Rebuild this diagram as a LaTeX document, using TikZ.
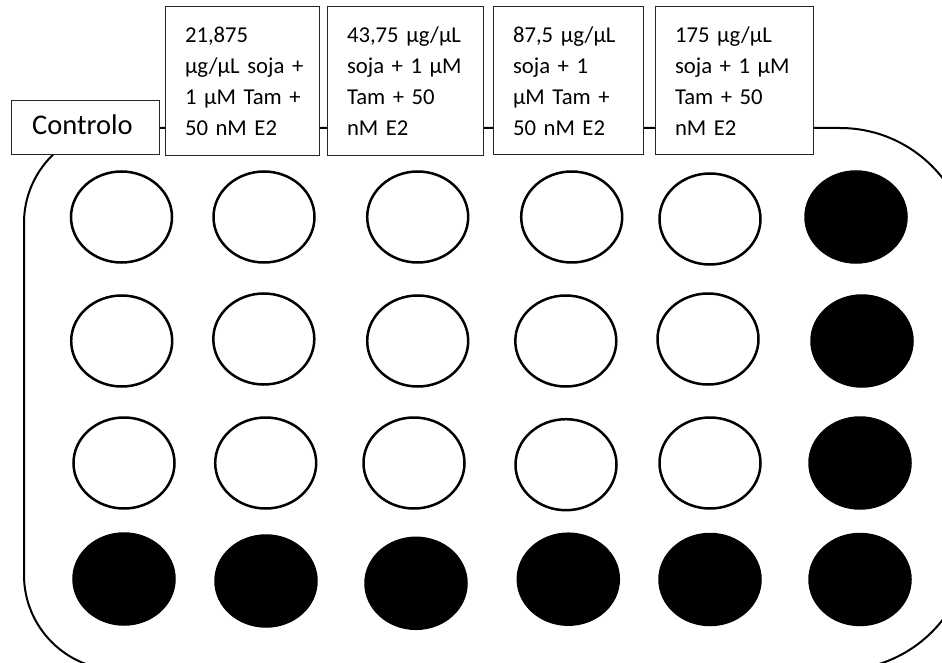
\documentclass[tikz,border=0pt]{standalone}
\usepackage{fontspec}
\setmainfont{Carlito}
\begin{document}
\begin{tikzpicture}[x=1pt,y=-1pt,
  well/.style={draw=black,line width=2.5pt},
  fullwell/.style={well,fill=black},
  emptywell/.style={well,fill=white},
  plate/.style={draw=black,line width=2pt},
  lbl/.style={draw=black!85,line width=1pt,fill=white,inner xsep=20pt,inner ysep=0pt,
    align=left,font=\fontsize{22.7pt}{31pt}\selectfont},
  ctl/.style={draw=black!85,line width=1pt,fill=white,inner sep=0pt,
    minimum width=148pt,minimum height=54pt,text height=20pt,text depth=6pt,
    font=\fontsize{28.5pt}{34pt}\selectfont}]
\useasboundingbox (0,0) rectangle (942,663);
\clip (0,0) rectangle (942,663);
% plate outline
\draw[plate] (119,128) -- (840,128)
  arc[start angle=-90,end angle=0,radius=130] -- (970,540)
  arc[start angle=0,end angle=90,radius=130] -- (119,670)
  arc[start angle=90,end angle=180,radius=95] -- (24,223)
  arc[start angle=180,end angle=270,radius=95] -- cycle;
% wells
\foreach \n/\x/\y/\s in {
  a1/121.5/217/emptywell, a2/264/217/emptywell, a3/417.7/217/emptywell,
  a4/571.7/217/emptywell, a5/710/219/emptywell, a6/856/217/fullwell,
  b1/121.7/341/emptywell, b2/263.8/339/emptywell, b3/417.7/341/emptywell,
  b4/565.8/341/emptywell, b5/708/339/emptywell, b6/862/341/fullwell,
  c1/124/463/emptywell, c2/265.7/463/emptywell, c3/414/463/emptywell,
  c4/566/464.7/emptywell, c5/710/463/emptywell, c6/860/463/fullwell,
  d1/124/579/fullwell, d2/266/581/fullwell, d3/416/583.3/fullwell,
  d4/568.3/579.2/fullwell, d5/710/579.5/fullwell, d6/860/579.5/fullwell}
  \path[\s] (\x,\y) ellipse [x radius=50.5, y radius=45.5];
% labels
\node[ctl] (ctrl) at (85,128) {\hspace*{-5pt}Controlo};
\node[lbl,text width=114pt,minimum width=154pt,minimum height=149pt] (t1) at (242,81.5)
  {\mbox{21,875}\\\mbox{µg/µL soja +}\\\mbox{1 µM Tam +}\\\mbox{50 nM E2}};
\node[lbl,text width=116pt,minimum width=156pt,minimum height=149pt] (t2) at (405,81.5)
  {\mbox{43,75 µg/µL}\\\mbox{soja + 1 µM}\\\mbox{Tam + 50}\\\mbox{nM E2}};
\node[lbl,text width=110pt,minimum width=150pt,minimum height=148pt] (t3) at (568,81)
  {\mbox{87,5 µg/µL}\\\mbox{soja + 1}\\\mbox{µM Tam +}\\\mbox{50 nM E2}};
\node[lbl,text width=118pt,minimum width=158pt,minimum height=148pt] (t4) at (734,81)
  {\mbox{175 µg/µL}\\\mbox{soja + 1 µM}\\\mbox{Tam + 50}\\\mbox{nM E2}};
\end{tikzpicture}
\end{document}
